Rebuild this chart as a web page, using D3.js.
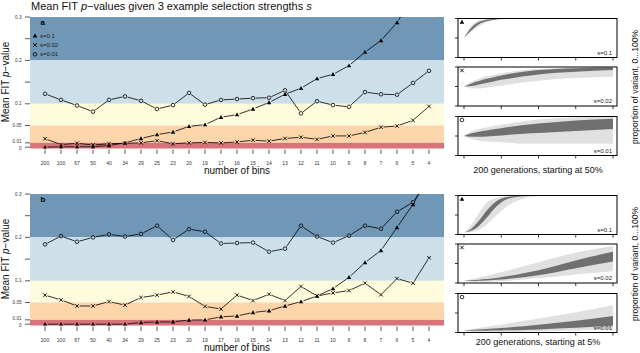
<!DOCTYPE html>
<html>
<head>
<meta charset="utf-8">
<script src="https://cdn.jsdelivr.net/npm/d3@7"></script>
<style>
  body { margin: 0; background: #fff; }
  text { font-family: "Liberation Sans", Arial, sans-serif; }
</style>
</head>
<body>
<div id="chart"></div>
<script>
// categories on the x axis (number of bins)
const bins = ["200","100","67","50","40","34","29","25","23","20","19","17","16","15","14","13","12","11","10","9","8","7","6","5","4"]

// panel a : mean FIT p-values, start at 50%
const aS01  = [0, 0.001, 0.001, 0.001, 0.004, 0.010, 0.020, 0.029, 0.035, 0.048, 0.052, 0.069, 0.075, 0.088, 0.103, 0.122, 0.136, 0.158, 0.168, 0.188, 0.219, 0.246, 0.287, 0.346, 0.42]
const aS002 = [0.0195, 0.006, 0.009, 0.005, 0.008, 0.009, 0.010, 0.015, 0.008, 0.010, 0.011, 0.010, 0.012, 0.016, 0.014, 0.020, 0.023, 0.018, 0.026, 0.026, 0.034, 0.046, 0.049, 0.062, 0.094]
const aS001 = [0.123, 0.109, 0.096, 0.082, 0.109, 0.117, 0.107, 0.088, 0.097, 0.125, 0.098, 0.109, 0.111, 0.113, 0.114, 0.131, 0.078, 0.106, 0.097, 0.093, 0.127, 0.122, 0.121, 0.148, 0.176]

// panel b : start at 5%
const bS01  = [0, 0, 0, 0, 0, 0, 0.004, 0.005, 0.0055, 0.0095, 0.010, 0.017, 0.019, 0.027, 0.031, 0.042, 0.052, 0.065, 0.082, 0.108, 0.142, 0.170, 0.223, 0.276, 0.344]
const bS002 = [0.067, 0.056, 0.042, 0.042, 0.052, 0.044, 0.0615, 0.067, 0.0745, 0.064, 0.041, 0.035, 0.067, 0.0545, 0.069, 0.0545, 0.087, 0.065, 0.072, 0.0775, 0.0945, 0.068, 0.105, 0.0945, 0.153]
const bS001 = [0.184, 0.203, 0.190, 0.200, 0.207, 0.202, 0.208, 0.227, 0.194, 0.219, 0.213, 0.186, 0.187, 0.188, 0.167, 0.174, 0.227, 0.202, 0.188, 0.204, 0.227, 0.220, 0.259, 0.281, 0.335]

// significance bands and y ticks
const bandTops   = [0.3, 0.2, 0.1, 0.05, 0.01]
const bandColors = ["#7097b5", "#cde0ea", "#fffbdd", "#fdd5ab", "#d8737b"]
const yTicks      = [0, 0.01, 0.05, 0.1, 0.15, 0.2, 0.25, 0.3]
const yTickLabels = ["0", "0.01", "0.05", "0.1", "", "0.2", "", "0.3"]

// trajectory panels: generations and envelopes (proportion 0..1)
const gens = [0, 10, 20, 30, 40, 50, 60, 80, 100, 150, 200]
const genTicks = [0, 50, 100, 150, 200]
const a1Lo     = [.5, .66, .80, .90, .95, .98, .99, 1, 1, 1, 1]
const a1Hi     = [.5, .82, .95, .985, .995, 1, 1, 1, 1, 1, 1]
const a1CoreLo = [.5, .70, .85, .93, .97, .99, .995, 1, 1, 1, 1]
const a1CoreHi = [.5, .77, .91, .97, .99, .998, 1, 1, 1, 1, 1]
const a2Lo     = [.5, .45, .45, .47, .50, .52, .55, .60, .65, .72, .75]
const a2Hi     = [.5, .62, .70, .76, .80, .84, .87, .92, .95, .99, 1]
const a2CoreLo = [.5, .51, .55, .59, .63, .67, .70, .76, .81, .88, .92]
const a2CoreHi = [.5, .58, .64, .70, .74, .78, .82, .88, .92, .97, .99]
const a3Lo     = [.5, .42, .38, .36, .35, .34, .33, .30, .30, .30, .30]
const a3Hi     = [.5, .62, .68, .72, .76, .79, .82, .88, .92, .98, 1]
const a3CoreLo = [.5, .48, .48, .49, .50, .51, .53, .56, .58, .63, .68]
const a3CoreHi = [.5, .57, .61, .64, .67, .70, .73, .78, .82, .90, .94]
const b1Lo     = [.05, .06, .12, .25, .42, .60, .75, .92, .98, 1, 1]
const b1Hi     = [.05, .25, .55, .80, .92, .97, .99, 1, 1, 1, 1]
const b1CoreLo = [.05, .10, .22, .42, .65, .82, .92, .98, 1, 1, 1]
const b1CoreHi = [.05, .15, .35, .60, .80, .92, .97, .995, 1, 1, 1]
const b2Lo     = [.05, .03, .03, .03, .04, .05, .06, .09, .12, .22, .30]
const b2Hi     = [.05, .10, .14, .18, .23, .28, .33, .43, .53, .78, .95]
const b2CoreLo = [.05, .05, .055, .065, .075, .09, .11, .15, .20, .38, .55]
const b2CoreHi = [.05, .07, .085, .10, .125, .15, .18, .25, .33, .58, .80]
const b3Lo     = [.05, .02, .01, .01, .01, .01, .01, .02, .03, .05, .08]
const b3Hi     = [.05, .09, .12, .15, .18, .20, .23, .30, .36, .52, .70]
const b3CoreLo = [.05, .045, .045, .045, .05, .05, .055, .065, .08, .12, .17]
const b3CoreHi = [.05, .065, .08, .09, .10, .115, .13, .16, .20, .30, .42]

const width = 640, height = 353
const plotL = 30, plotR = 444, plotH = 131.5
const panelShift = 177

const svg = d3.select("#chart").append("svg").attr("width", width).attr("height", height)
const defs = svg.append("defs")

const x = d3.scalePoint().domain(bins).range([45, 429])

const symTri = d3.symbol().type(d3.symbolTriangle).size(9)
const symX = d3.symbol().type(d3.symbolTimes).size(10)

function drawMarker(g, kind, cx, cy) {
  if (kind === "tri") {
    g.append("path").attr("d", symTri()).attr("transform", `translate(${cx},${cy + 0.4})`).attr("fill", "#000")
  } else if (kind === "x") {
    g.append("path").attr("d", symX()).attr("transform", `translate(${cx},${cy})`)
      .attr("fill", "none").attr("stroke", "#000").attr("stroke-width", 0.9)
  } else {
    g.append("circle").attr("cx", cx).attr("cy", cy).attr("r", 1.8)
      .attr("fill", "none").attr("stroke", "#000").attr("stroke-width", 0.8)
  }
}

// line plot with gaps around points (like R type="b")
function drawSeries(g, y, vals, kind) {
  const pts = vals.map((v, i) => [x(bins[i]), y(v)])
  const gap = 2.6
  for (let i = 0; i < pts.length - 1; i++) {
    const [x0, y0] = pts[i], [x1, y1] = pts[i + 1]
    const len = Math.hypot(x1 - x0, y1 - y0)
    if (len <= 2 * gap) continue
    const ux = (x1 - x0) / len, uy = (y1 - y0) / len
    g.append("line")
      .attr("x1", x0 + ux * gap).attr("y1", y0 + uy * gap)
      .attr("x2", x1 - ux * gap).attr("y2", y1 - uy * gap)
      .attr("stroke", "#000").attr("stroke-width", 0.8)
  }
  pts.forEach(p => drawMarker(g, kind, p[0], p[1]))
}

function mainPanel(top, s01, s002, s001, letter, legend) {
  const y = d3.scaleLinear().domain([-0.003, 0.3]).range([top + plotH, top])
  const g = svg.append("g")

  // background bands
  bandTops.forEach((t, i) => {
    const lo = i < bandTops.length - 1 ? bandTops[i + 1] : -0.003
    g.append("rect").attr("x", plotL).attr("width", plotR - plotL)
      .attr("y", y(t)).attr("height", y(lo) - y(t)).attr("fill", bandColors[i])
  })

  // y ticks ("0.01" and "0" sit very close, nudge them apart a little)
  yTicks.forEach((t, i) => {
    g.append("line").attr("x1", 25).attr("x2", plotL).attr("y1", y(t)).attr("y2", y(t))
      .attr("stroke", "#333").attr("stroke-width", 0.8)
    if (yTickLabels[i]) {
      const nudge = t === 0 ? 0.9 : (t === 0.01 ? -1 : 0)
      g.append("text").attr("x", 21.5).attr("y", y(t) + nudge).attr("dy", "0.35em")
        .attr("text-anchor", "end").attr("font-size", 4.6).attr("fill", "#333").text(yTickLabels[i])
    }
  })

  // x ticks
  const bottom = top + plotH
  bins.forEach(b => {
    g.append("line").attr("x1", x(b)).attr("x2", x(b)).attr("y1", bottom + 1).attr("y2", bottom + 5.5)
      .attr("stroke", "#333").attr("stroke-width", 0.8)
    g.append("text").attr("x", x(b)).attr("y", top + 148).attr("text-anchor", "middle")
      .attr("font-size", 5).attr("fill", "#333").text(b)
  })
  g.append("text").attr("x", 237).attr("y", top + 157).attr("text-anchor", "middle")
    .attr("font-size", 10).attr("fill", "#111").text("number of bins")

  // y label
  const yl = g.append("text").attr("transform", `translate(8.5,${top + 65}) rotate(-90)`)
    .attr("text-anchor", "middle").attr("font-size", 10).attr("fill", "#111")
  yl.append("tspan").text("Mean FIT  ")
  yl.append("tspan").attr("font-style", "italic").text("p")
  yl.append("tspan").text("\u2212value")

  // series, clipped to the plot area
  const clipId = "clip" + letter
  defs.append("clipPath").attr("id", clipId).append("rect")
    .attr("x", plotL).attr("y", top).attr("width", plotR - plotL).attr("height", plotH)
  const sg = g.append("g").attr("clip-path", `url(#${clipId})`)
  drawSeries(sg, y, s001, "o")
  drawSeries(sg, y, s002, "x")
  drawSeries(sg, y, s01, "tri")

  g.append("text").attr("x", 40.5).attr("y", top + 8).attr("font-size", 8)
    .attr("font-weight", "bold").attr("fill", "#000").text(letter)

  if (legend) {
    const items = [["tri", "s=0.1"], ["x", "s=0.02"], ["o", "s=0.01"]]
    items.forEach((it, i) => {
      const cy = top + 18.7 + i * 9.3
      drawMarker(g, it[0], 35, cy)
      g.append("text").attr("x", 40).attr("y", cy).attr("dy", "0.35em")
        .attr("font-size", 6).attr("fill", "#222").text(it[1])
    })
  }
}

function smallPanel(top, lo, hi, coreLo, coreHi, kind, label, id) {
  const boxL = 458, boxR = 617, h = 39
  const xg = d3.scaleLinear().domain([0, 200]).range([464, 613])
  const yg = d3.scaleLinear().domain([0, 1]).range([top + h, top])
  const g = svg.append("g")
  defs.append("clipPath").attr("id", id).append("rect")
    .attr("x", boxL).attr("y", top).attr("width", boxR - boxL).attr("height", h)
  const cg = g.append("g").attr("clip-path", `url(#${id})`)

  const area = (l, u) => d3.area()
    .x((d, i) => xg(gens[i]))
    .y0((d, i) => yg(l[i]))
    .y1((d, i) => yg(u[i]))
    .curve(d3.curveMonotoneX)(gens)
  cg.append("path").attr("d", area(lo, hi)).attr("fill", "#000").attr("fill-opacity", 0.12)
  cg.append("path").attr("d", area(coreLo, coreHi)).attr("fill", "#000").attr("fill-opacity", 0.5)

  g.append("rect").attr("x", boxL).attr("y", top).attr("width", boxR - boxL).attr("height", h)
    .attr("fill", "none").attr("stroke", "#000").attr("stroke-width", 1)

  ;[0, 0.5, 1].forEach(v => {
    g.append("line").attr("x1", boxL - 3).attr("x2", boxL).attr("y1", yg(v)).attr("y2", yg(v))
      .attr("stroke", "#000").attr("stroke-width", 0.8)
  })
  genTicks.forEach(t => {
    g.append("line").attr("x1", xg(t)).attr("x2", xg(t)).attr("y1", top + h).attr("y2", top + h + 3)
      .attr("stroke", "#000").attr("stroke-width", 0.8)
  })

  drawMarker(g, kind, 462, top + 3.5)
  g.append("text").attr("x", 612).attr("y", top + h - 3).attr("text-anchor", "end")
    .attr("font-size", 6).attr("fill", "#222").text(label)
}

// title
const title = svg.append("text").attr("x", 31).attr("y", 9.5).attr("font-size", 11).attr("fill", "#111")
title.append("tspan").text("Mean FIT ")
title.append("tspan").attr("font-style", "italic").text("p")
title.append("tspan").text("\u2212values given 3 example selection strengths ")
title.append("tspan").attr("font-style", "italic").text("s")

mainPanel(17, aS01, aS002, aS001, "a", true)
mainPanel(17 + panelShift, bS01, bS002, bS001, "b", false)

const smallTops = [18.5, 67, 116.5]
smallPanel(smallTops[0], a1Lo, a1Hi, a1CoreLo, a1CoreHi, "tri", "s=0.1", "sa1")
smallPanel(smallTops[1], a2Lo, a2Hi, a2CoreLo, a2CoreHi, "x", "s=0.02", "sa2")
smallPanel(smallTops[2], a3Lo, a3Hi, a3CoreLo, a3CoreHi, "o", "s=0.01", "sa3")
smallPanel(smallTops[0] + panelShift, b1Lo, b1Hi, b1CoreLo, b1CoreHi, "tri", "s=0.1", "sb1")
smallPanel(smallTops[1] + panelShift, b2Lo, b2Hi, b2CoreLo, b2CoreHi, "x", "s=0.02", "sb2")
smallPanel(smallTops[2] + panelShift, b3Lo, b3Hi, b3CoreLo, b3CoreHi, "o", "s=0.01", "sb3")

;[["200 generations, starting at 50%", 173, 87], ["200 generations, starting at 5%", 345, 87 + panelShift]].forEach(d => {
  svg.append("text").attr("x", 538).attr("y", d[1]).attr("text-anchor", "middle")
    .attr("font-size", 9).attr("fill", "#111").text(d[0])
  svg.append("text").attr("transform", `translate(637.5,${d[2]}) rotate(-90)`)
    .attr("text-anchor", "middle").attr("font-size", 8.5).attr("fill", "#111")
    .text("proportion of variant, 0...100%")
})
</script>
</body>
</html>
